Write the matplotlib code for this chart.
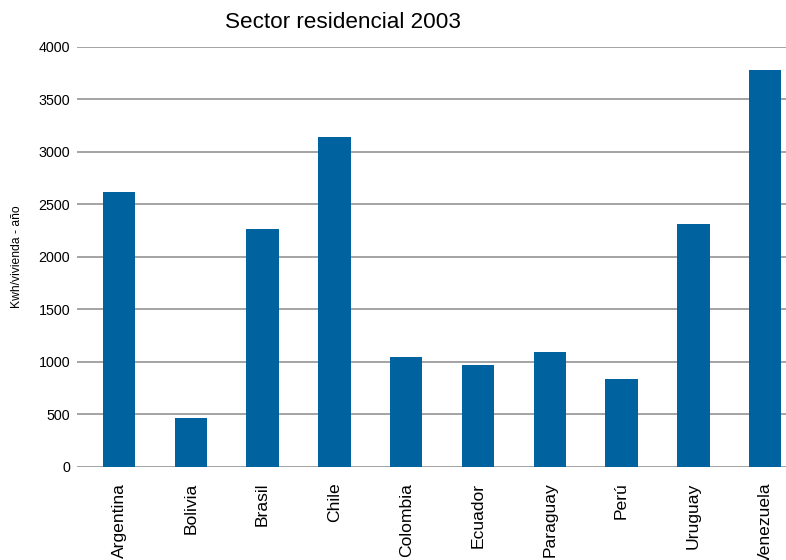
import matplotlib.pyplot as plt

plt.rcParams['font.family'] = ['Liberation Sans', 'DejaVu Sans']

paises = ["Argentina", "Bolivia", "Brasil", "Chile", "Colombia",
          "Ecuador", "Paraguay", "Perú", "Uruguay", "Venezuela"]
consumo = [2616, 461, 2264, 3140, 1045, 969, 1092, 835, 2311, 3778]
yticks = [0, 500, 1000, 1500, 2000, 2500, 3000, 3500, 4000]

W, H = 786, 560
fig = plt.figure(figsize=(W / 100, H / 100), dpi=100)
# axes from x=77 px to the right edge, y from 46.7 px to 466.7 px
ax = fig.add_axes([77 / W, (H - 466.7) / H, (W - 77) / W, 420 / H])

x = list(range(len(paises)))
ax.bar(x, consumo, width=0.45, color="#0063a0", zorder=3)

ax.set_xlim(-0.585, (W - 119) / 71.8)
ax.set_ylim(0, 4000)
ax.set_yticks(yticks)
ax.yaxis.grid(True, color="#8a8a8a", linewidth=1.1, zorder=0)
ax.set_xticks(x)
ax.set_xticklabels(paises, rotation=90, fontsize=12.6, va="top", ha="center")
ax.tick_params(axis="x", length=0, pad=11.5)
ax.tick_params(axis="y", length=0, pad=5, labelsize=10.3)
for s in ax.spines.values():
    s.set_visible(False)

fig.text(343 / W, 1 - 22 / H, "Sector residencial 2003", fontsize=16.2,
         ha="center", va="center")
fig.text(17 / W, 1 - 257 / H, "Kwh/vivienda - año", fontsize=8.7,
         rotation=90, ha="center", va="center")

fig.savefig("out.png", dpi=100)
